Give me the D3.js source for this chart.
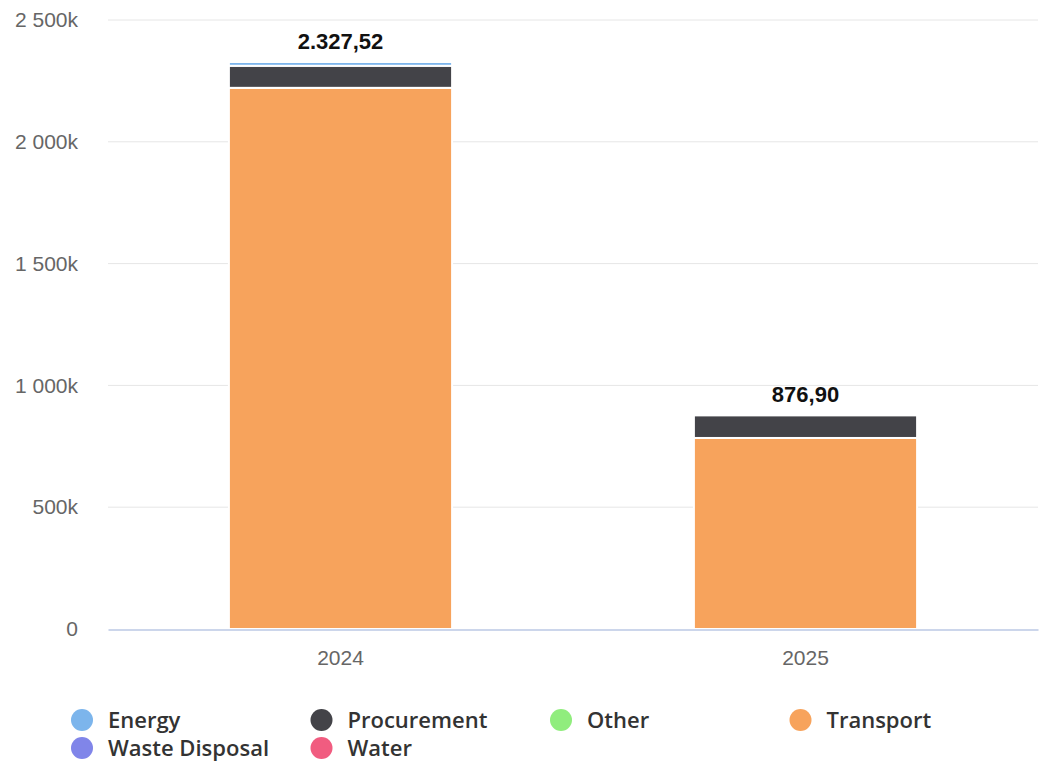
<!DOCTYPE html>
<html>
<head>
<meta charset="utf-8">
<script src="https://cdn.jsdelivr.net/npm/d3@7"></script>
<style>
  body { margin: 0; background: #fff; }
</style>
</head>
<body>
<div id="chart-area"></div>
<script>
// data (values in thousands)
var years = ["2024", "2025"];
var seriesNames = ["Energy", "Procurement", "Other", "Transport", "Waste Disposal", "Water"];
var seriesColors = ["#7cb5ec", "#434348", "#90ed7d", "#f7a35c", "#8085e9", "#f15c80"];
var energy = [15.5, 0];
var procurement = [90.5, 92.7];
var other = [0, 0];
var transport = [2221.52, 784.2];
var wasteDisposal = [0, 0];
var water = [0, 0];
var totalLabels = ["2.327,52", "876,90"];
var yTicks = [0, 500, 1000, 1500, 2000, 2500];

var width = 1039, height = 762;
var margin = {top: 20, right: 1, bottom: 133, left: 108};
var innerW = width - margin.left - margin.right;
var innerH = height - margin.top - margin.bottom;

var svg = d3.select("#chart-area")
    .append("svg")
    .attr("width", width)
    .attr("height", height);

var g = svg.append("g")
    .attr("transform", "translate(" + margin.left + ", " + margin.top + ")");

var seriesValues = [energy, procurement, other, transport, wasteDisposal, water];
var table = years.map((y, i) => {
    var row = {year: y};
    seriesNames.forEach((s, j) => { row[s] = seriesValues[j][i]; });
    return row;
});

// stack order: transport at bottom, energy on top
var stackOrder = ["Transport", "Procurement", "Other", "Water", "Waste Disposal", "Energy"];
var stack = d3.stack().keys(stackOrder)(table);

var x = d3.scaleBand()
    .domain(years)
    .range([0, innerW])
    .paddingInner(0.52)
    .paddingOuter(0.26);

var y = d3.scaleLinear()
    .domain([0, 2500])
    .range([innerH, 0]);

var color = d3.scaleOrdinal()
    .domain(seriesNames)
    .range(seriesColors);

// grid lines
g.append("g")
    .selectAll("line")
    .data(yTicks.filter((d) => d > 0))
    .enter()
    .append("line")
        .attr("x1", 0)
        .attr("x2", innerW)
        .attr("y1", (d) => y(d))
        .attr("y2", (d) => y(d))
        .attr("stroke", "#e6e6e6")
        .attr("stroke-width", 1);

// y axis labels
var yAxisCall = d3.axisLeft(y)
    .tickValues(yTicks)
    .tickSize(0)
    .tickPadding(30)
    .tickFormat((d) => d === 0 ? "0" : d3.format(",")(d).replace(",", " ") + "k");

var yAxis = g.append("g").call(yAxisCall);
yAxis.select(".domain").remove();
yAxis.selectAll("text")
    .attr("fill", "#666")
    .attr("font-family", "Liberation Sans, Arial, sans-serif")
    .attr("font-size", "21px");

// bars
g.selectAll("g.layer")
    .data(stack)
    .enter()
    .append("g")
        .attr("class", "layer")
        .attr("fill", (d) => color(d.key))
    .selectAll("rect")
    .data((d) => d.filter((p) => p[1] - p[0] > 0))
    .enter()
    .append("rect")
        .attr("x", (d) => x(d.data.year))
        .attr("y", (d) => y(d[1]))
        .attr("width", x.bandwidth())
        .attr("height", (d) => y(d[0]) - y(d[1]))
        .attr("stroke", "#fff")
        .attr("stroke-width", 2);

// x axis
var bottomAxis = d3.axisBottom(x).tickSize(0).tickPadding(21);
var xAxis = g.append("g")
    .attr("transform", "translate(0, " + (innerH + 0.5) + ")")
    .call(bottomAxis);
xAxis.select(".domain").attr("stroke", "#ccd6eb").attr("stroke-width", 2);
xAxis.selectAll("text")
    .attr("fill", "#666")
    .attr("font-family", "Liberation Sans, Arial, sans-serif")
    .attr("font-size", "21px");

// totals above bars
g.selectAll("text.total")
    .data(table)
    .enter()
    .append("text")
        .attr("class", "total")
        .attr("x", (d) => x(d.year) + x.bandwidth() / 2)
        .attr("y", (d, i) => y(d3.sum(seriesNames, (s) => d[s])) - 13)
        .attr("text-anchor", "middle")
        .attr("font-family", "Liberation Sans, Arial, sans-serif")
        .attr("font-size", "22px")
        .attr("font-weight", "bold")
        .attr("fill", "#111")
        .text((d, i) => totalLabels[i]);

// legend
var legend = svg.append("g");
var items = legend.selectAll("g")
    .data(seriesNames)
    .enter()
    .append("g")
        .attr("transform", (d, i) => "translate(" + (82 + (i % 4) * 239.5) + ", " + (720 + Math.floor(i / 4) * 28) + ")");
items.append("circle")
    .attr("r", 11)
    .attr("fill", (d) => color(d));
items.append("text")
    .attr("x", 26)
    .attr("dy", "0.36em")
    .attr("font-family", "Open Sans, sans-serif")
    .attr("font-size", "22px")
    .attr("font-weight", "600")
    .attr("fill", "#333")
    .text((d) => d);
</script>
</body>
</html>
